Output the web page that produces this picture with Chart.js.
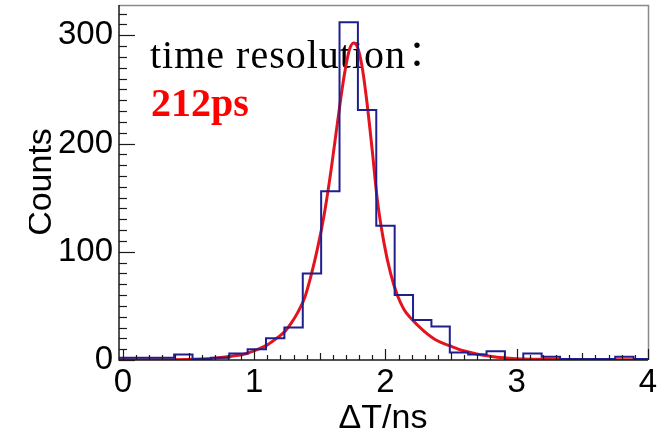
<!DOCTYPE html>
<html><head><meta charset="utf-8">
<script src="https://cdn.jsdelivr.net/npm/chart.js@4.4.1/dist/chart.umd.min.js"></script>
<style>html,body{margin:0;padding:0;background:#fff;overflow:hidden}#wrap{width:669px;height:439px;position:relative}</style>
</head><body><div id="wrap"><canvas id="c" width="669" height="439"></canvas></div>
<script>
// ---- data ----
const binStart = -0.03;             // ns, lower edge of first bin
const binWidth = 0.14;              // ns per histogram bin
const counts = [2,2,2,5,1,2,6,10,20,30,80,156,312,231,124,60,37,31,7,5,8,0,6,3,1,1,1,3,1];
const fitX = [-0.03,0.272,0.474,0.676,0.828,0.929,1.03,1.1,1.181,1.231,1.282,1.332,1.383,1.433,1.484,1.534,1.585,1.635,1.686,1.726,1.758,1.787,1.822,1.857,1.898,1.938,1.989,2.039,2.09,2.14,2.19,2.291,2.392,2.493,2.594,2.695,2.796,2.897,2.998,3.2,3.503,4.0];
const fitY = [0.3,0.3,0.5,1.5,3.5,5.5,10,14,21,26,34,44,57,78,104,135,175,220,263,287,293,289,271,240,195,148,108,80,60,47,39,27,18,13,8.5,5.5,3.5,2,1.2,0.6,0.3,0.2];
const xTickLabels = [0,1,2,3,4];
const yTickLabels = [0,100,200,300];
const xRange = [-0.03,4.0];
const yRange = [0,328];
const xTitle = 'ΔT/ns';
const yTitle = 'Counts';
const noteLines = ['time resolution','：','212ps'];

const histPts = counts.map((c,i)=>({x:binStart+i*binWidth, y:c}));
histPts.push({x:binStart+counts.length*binWidth, y:counts[counts.length-1]});
const fitPts = fitX.map((v,i)=>({x:v, y:fitY[i]}));

const rootFrame = {
  id:'rootFrame',
  beforeDatasetsDraw(chart){
    const ctx = chart.ctx;
    ctx.save();
    ctx.textAlign='left'; ctx.textBaseline='alphabetic';
    ctx.fillStyle='#000'; ctx.font='40px "Liberation Serif", "Times New Roman", serif';
    try{ ctx.letterSpacing='1px'; }catch(e){}
    ctx.fillText(noteLines[0],150,68);
    ctx.letterSpacing='0px';
    ctx.font='36px "Noto Sans CJK SC", sans-serif';
    ctx.fillText(noteLines[1],408,66);
    ctx.fillStyle='#ff0000'; ctx.font='bold 40px "Liberation Serif", "Times New Roman", serif';
    ctx.fillText(noteLines[2],151,116);
    ctx.restore();
  },
  afterDatasetsDraw(chart){
    const {ctx, chartArea:a, scales:{x,y}} = chart;
    ctx.save();
    ctx.strokeStyle='#8a8a8a'; ctx.lineWidth=1.5;
    ctx.beginPath(); ctx.moveTo(a.left,a.top+0.5); ctx.lineTo(a.right+0.5,a.top+0.5); ctx.lineTo(a.right+0.5,a.bottom); ctx.stroke();
    ctx.strokeStyle='#1a1a1a'; ctx.lineWidth=1.5;
    ctx.beginPath(); ctx.moveTo(a.left,a.top); ctx.lineTo(a.left,a.bottom); ctx.lineTo(a.right,a.bottom); ctx.stroke();
    ctx.lineWidth=1.2;
    for(let v=0; v<=yRange[1]; v+=10){
      const py=Math.round(y.getPixelForValue(v))+0.5;
      const major = v%100===0;
      ctx.beginPath(); ctx.moveTo(a.left,py); ctx.lineTo(a.left+(major?16:8),py); ctx.stroke();
    }
    for(let i=0;i<=40;i++){
      const px=Math.round(x.getPixelForValue(i/10))+0.5;
      const len = i%10===0?11:(i%5===0?7:5);
      ctx.beginPath(); ctx.moveTo(px,a.bottom); ctx.lineTo(px,a.bottom-len); ctx.stroke();
    }
    ctx.restore();
  },
  afterDraw(chart){
    const ctx=chart.ctx;
    ctx.save();
    ctx.fillStyle='#000';
    ctx.font='34px "Liberation Sans", Arial, sans-serif';
    ctx.textAlign='center'; ctx.textBaseline='alphabetic';
    ctx.fillText(xTitle,383,428);
    ctx.beginPath(); ctx.rect(29,0,100,439); ctx.clip();
    ctx.translate(51,182); ctx.rotate(-Math.PI/2);
    ctx.fillText(yTitle,0,0);
    ctx.restore();
  }
};

new Chart(document.getElementById('c'),{
  type:'scatter',
  data:{datasets:[
    {data:histPts, showLine:true, stepped:true, borderColor:'#1f1f8f', borderWidth:2, pointRadius:0, fill:false},
    {data:fitPts, showLine:true, borderColor:'#e3141e', borderWidth:3, pointRadius:0, fill:false, cubicInterpolationMode:'monotone'}
  ]},
  options:{
    responsive:false, animation:false, devicePixelRatio:1,
    layout:{padding:{left:0,right:21,top:5,bottom:0}},
    plugins:{legend:{display:false}, tooltip:{enabled:false}},
    scales:{
      x:{type:'linear', min:xRange[0], max:xRange[1],
        afterBuildTicks:s=>{s.ticks=xTickLabels.map(v=>({value:v}));},
        afterFit:s=>{s.height=79; s.paddingLeft=0; s.paddingRight=0;},
        grid:{display:false, drawTicks:false}, border:{display:false},
        ticks:{color:'#000', padding:3, maxRotation:0, autoSkip:false, font:{family:'"Liberation Sans", Arial, sans-serif', size:33}, callback:v=>String(v)}},
      y:{type:'linear', min:yRange[0], max:yRange[1],
        afterBuildTicks:s=>{s.ticks=yTickLabels.map(v=>({value:v}));},
        afterFit:s=>{s.width=119; s.paddingTop=0; s.paddingBottom=0;},
        grid:{display:false, drawTicks:false}, border:{display:false},
        ticks:{color:'#000', padding:6, font:{family:'"Liberation Sans", Arial, sans-serif', size:33}, callback:v=>String(v)}}
    }
  },
  plugins:[rootFrame]
});
</script></body></html>
